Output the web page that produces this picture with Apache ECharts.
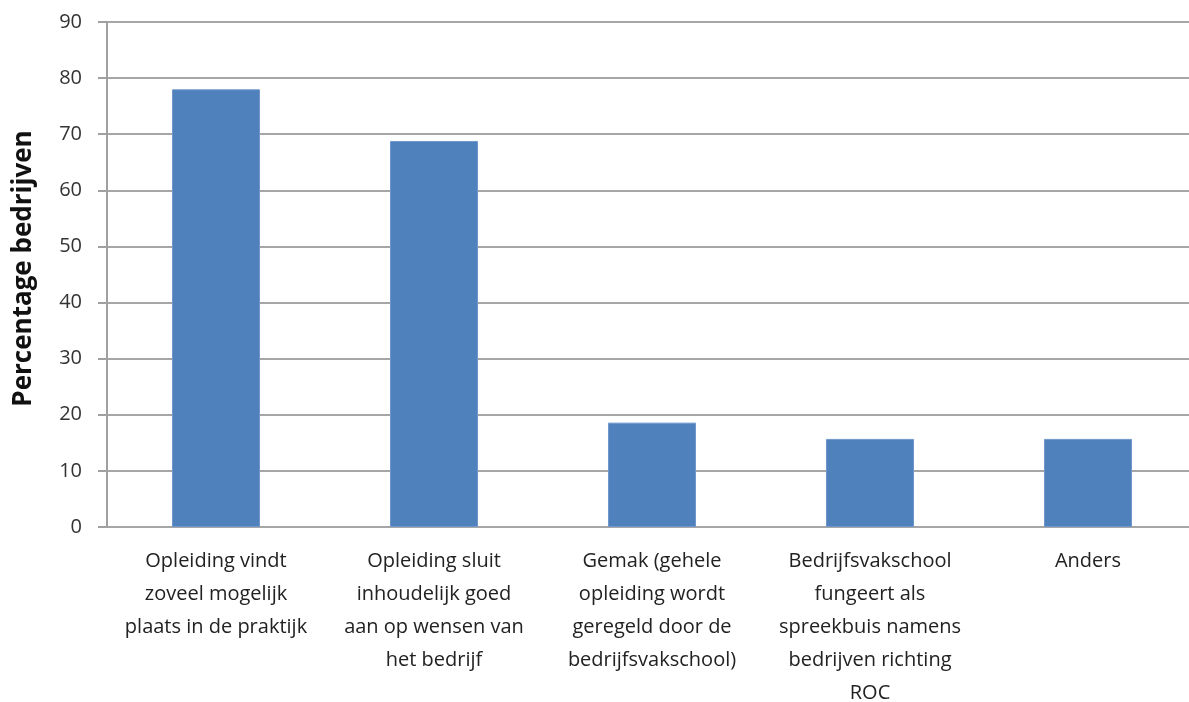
<!DOCTYPE html>
<html>
<head>
<meta charset="utf-8">
<script src="https://cdn.jsdelivr.net/npm/echarts@6/dist/echarts.min.js"></script>
<style>
html,body{margin:0;padding:0;background:#fff;}
#chart{width:1189px;height:702px;}
</style>
</head>
<body>
<div id="chart"></div>
<script>
const categories = [
  "Opleiding vindt\nzoveel mogelijk\nplaats in de praktijk",
  "Opleiding sluit\ninhoudelijk goed\naan op wensen van\nhet bedrijf",
  "Gemak (gehele\nopleiding wordt\ngeregeld door de\nbedrijfsvakschool)",
  "Bedrijfsvakschool\nfungeert als\nspreekbuis namens\nbedrijven richting\nROC",
  "Anders"
];
const values = [78, 68.8, 18.6, 15.7, 15.7];
const yAxisTitle = "Percentage bedrijven";

const font = "'Open Sans', 'Noto Sans', sans-serif";
const chart = echarts.init(document.getElementById('chart'), null, {renderer: 'canvas'});
chart.setOption({
  animation: false,
  backgroundColor: '#ffffff',
  grid: {left: 107, top: 22, width: 1090, height: 505, containLabel: false, outerBoundsMode: 'none'},
  xAxis: {
    type: 'category',
    data: categories,
    axisLine: {show: false},
    axisTick: {show: false},
    axisLabel: {
      interval: 0,
      margin: 18,
      color: '#222',
      fontFamily: font,
      fontSize: 20,
      lineHeight: 33,
      align: 'center'
    }
  },
  yAxis: {
    type: 'value',
    min: 0, max: 90, interval: 10,
    name: yAxisTitle,
    nameLocation: 'middle',
    nameGap: 70,
    nameTextStyle: {fontFamily: font, fontSize: 26, fontWeight: 'bold', color: '#111', padding: [0, 0, 0, 12]},
    axisLine: {show: true, lineStyle: {color: '#a0a0a0', width: 2}},
    axisTick: {show: true, inside: false, length: 9, lineStyle: {color: '#a0a0a0', width: 2}},
    splitLine: {show: true, lineStyle: {color: '#a6a6a6', width: 2}},
    axisLabel: {margin: 25, color: '#333', fontFamily: font, fontSize: 20}
  },
  series: [{
    type: 'bar',
    data: values,
    barWidth: 88,
    itemStyle: {color: '#4f81bd', borderColor: '#6f97cc', borderWidth: 1}
  }]
});
</script>
</body>
</html>
